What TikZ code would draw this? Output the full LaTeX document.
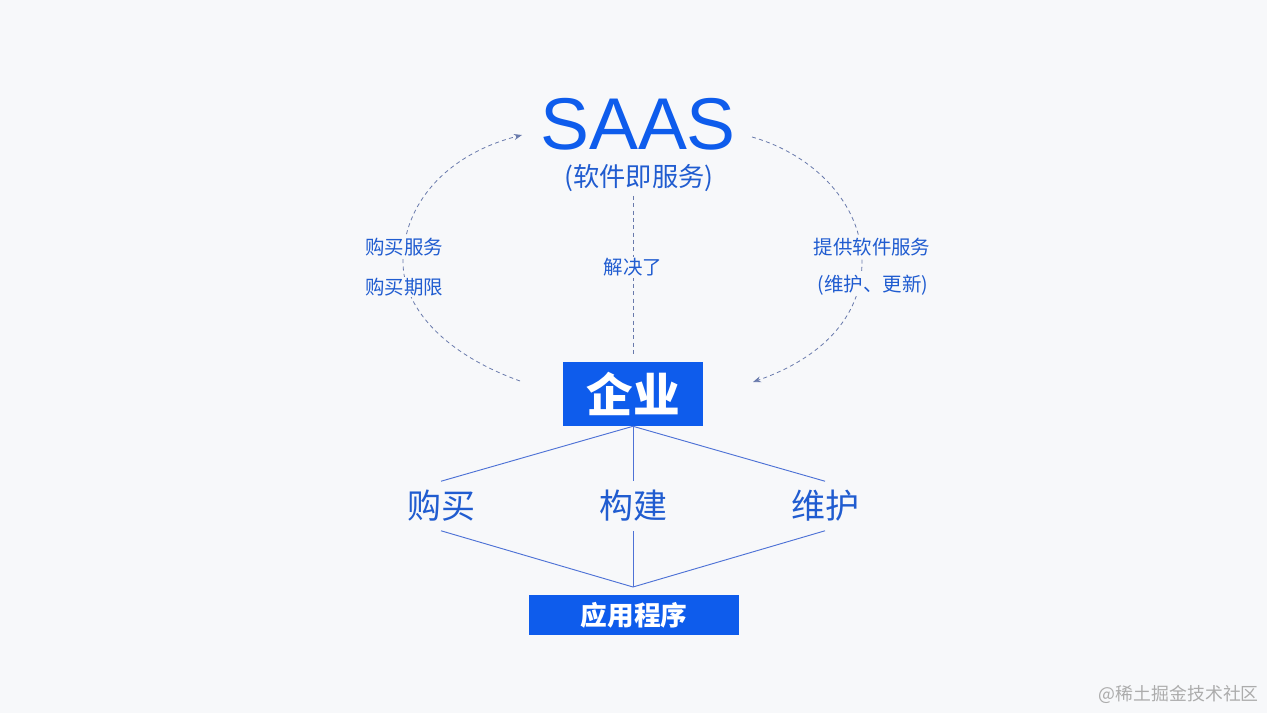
\documentclass[tikz,border=0pt]{standalone}
\usepackage{fontspec}
\setmainfont{Noto Sans CJK SC}
\newfontfamily\latin{Liberation Sans}
\usepackage{tikz}
\usetikzlibrary{arrows.meta,positioning}
\definecolor{bleu}{RGB}{14,92,236}
\definecolor{texte}{RGB}{32,92,208}
\definecolor{trait}{RGB}{78,114,214}
\definecolor{pointille}{RGB}{105,122,172}
\definecolor{fond}{RGB}{247,248,250}
\definecolor{filigrane}{RGB}{172,172,172}

\begin{document}
\begin{tikzpicture}[x=0.75pt, y=-0.75pt,
		boite/.style={fill=bleu, text=white, inner sep=0pt},
		etiquette/.style={text=texte, font=\fontsize{14.6}{18}\selectfont, fill=fond, inner sep=1pt},
		etape/.style={text=texte, font=\fontsize{25.5}{30}\selectfont, inner sep=0pt, minimum height=36.75pt},
		lien/.style={trait, line width=0.7pt},
		tirets/.style={pointille, line width=0.6pt, dash pattern=on 3pt off 2.5pt}]
				\fill[fond] (0,0) rectangle (1267,713);
				\useasboundingbox (0,0) rectangle (1267,713);
				
				% SAAS en haut
				\node[text=bleu, font=\latin\fontsize{55}{60}\selectfont, inner sep=0pt] (saas) at (638,124) {SAAS};
				\node[text=texte, font=\fontsize{19.7}{24}\selectfont, inner sep=0pt] (sous) at (639,178) {(软件即服务)};
				
				% Entreprise et application
				\node[boite, minimum width=105pt, minimum height=48pt, font=\bfseries\fontsize{35}{40}\selectfont] (qiye) at (633,394) {企业};
				\node[boite, minimum width=157.5pt, minimum height=30pt, font=\bfseries\fontsize{20}{24}\selectfont] (appli) at (634,615) {应用程序};
				
				% Trois actions
				\node[etape] (achat) at (441,506) {购买};
				\node[etape] (construction) at (633,506) {构建};
				\node[etape] (maintenance) at (825,506) {维护};
				\coordinate (jonction) at (633,587);
				
				\foreach \n in {achat, construction, maintenance} {
					\draw[lien] (qiye.south) -- (\n.north);
					\draw[lien] (\n.south) -- (jonction);
				}
				
				% Pointillés
				\draw[tirets] (qiye.north |- sous.south) ++(0,4) -- node[etiquette, pos=0.45]{解决了} ([yshift=5pt]qiye.north);
				
				\coordinate (gbas) at (520,381);
				\coordinate (ghaut) at (522,135);
				\draw[tirets, -{Stealth[length=6pt, width=4.5pt]}] (gbas) .. controls (440,352) and (403,305) .. (403,262) .. controls (403,205) and (445,155) .. (ghaut);
				\node[etiquette] (achat1) at (404,247) {购买服务};
				\node[etiquette] (achat2) at (404,287) {购买期限};
				
				\coordinate (dhaut) at (752,137);
				\coordinate (dbas) at (753,382);
				\draw[tirets, -{Stealth[length=6pt, width=4.5pt]}] (dhaut) .. controls (815,155) and (862,205) .. (862,262) .. controls (862,310) and (830,355) .. (dbas);
				\node[etiquette] (service1) at (872,247) {提供软件服务};
				\node[etiquette] (service2) at (873,285) {(维护、更新)};
				
				\node[text=filigrane, font=\fontsize{13.4}{16}\selectfont, anchor=east, inner sep=0pt] (marque) at (1259,694) {@稀土掘金技术社区};
			\end{tikzpicture}
\end{document}
